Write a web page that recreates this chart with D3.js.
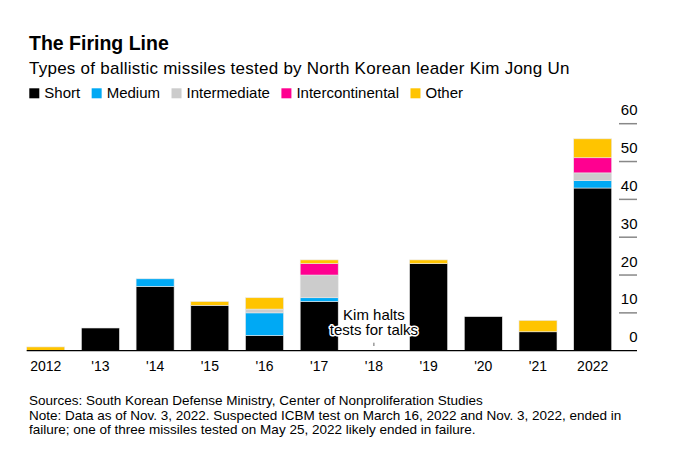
<!DOCTYPE html>
<html><head><meta charset="utf-8">
<script src="https://cdn.jsdelivr.net/npm/d3@7"></script>
<style>
body{margin:0;background:#fff;}
text{font-family:"Liberation Sans",Arial,Helvetica,sans-serif;}
</style></head>
<body><svg id="c" width="681" height="468"></svg>
<script>
const years = ["2012","'13","'14","'15","'16","'17","'18","'19","'20","'21","2022"];
const seriesNames = ["Short","Medium","Intermediate","Intercontinental","Other"];
const colors = ["#000000","#00a9f4","#cccccc","#ff0090","#ffc400"];
const shortVals = [0,6,17,12,4,13,0,23,9,5,43];
const mediumVals = [0,0,2,0,6,1,0,0,0,0,2];
const intermediateVals = [0,0,0,0,1,6,0,0,0,0,2];
const icbmVals = [0,0,0,0,0,3,0,0,0,0,4];
const otherVals = [1,0,0,1,3,1,0,1,0,3,5];
const yTicks = [0,10,20,30,40,50,60];
const notes = [
 "Sources: South Korean Defense Ministry, Center of Nonproliferation Studies",
 "Note: Data as of Nov. 3, 2022. Suspected ICBM test on March 16, 2022 and Nov. 3, 2022, ended in",
 "failure; one of three missiles tested on May 25, 2022 likely ended in failure."
];

const svg = d3.select("#c");
const rows = years.map((y,i)=>({year:y, Short:shortVals[i], Medium:mediumVals[i], Intermediate:intermediateVals[i], Intercontinental:icbmVals[i], Other:otherVals[i]}));
const stack = d3.stack().keys(seriesNames)(rows);

const x = d3.scaleBand().domain(years).range([26.7,611.7]).paddingInner(0.305).paddingOuter(0);
const y = d3.scaleLinear().domain([0,60]).range([350.7,123.7]);
const color = d3.scaleOrdinal().domain(seriesNames).range(colors);

// title
svg.append("text").attr("x",29).attr("y",49.5).attr("font-size",19.5).attr("font-weight","bold").attr("fill","#000").text("The Firing Line");
svg.append("text").attr("x",29).attr("y",73.5).attr("font-size",17).attr("letter-spacing",0.25).attr("fill","#000").text("Types of ballistic missiles tested by North Korean leader Kim Jong Un");

// legend
let lx = 29.3;
seriesNames.forEach((s)=>{
  svg.append("rect").attr("x",lx).attr("y",88.3).attr("width",10).attr("height",10).attr("fill",color(s));
  const t = svg.append("text").attr("x",lx+15).attr("y",97.5).attr("font-size",15).attr("fill","#000").text(s);
  lx = lx + 15 + t.node().getComputedTextLength() + 11.5;
});

// y ticks on right
const yg = svg.append("g");
yTicks.forEach(v=>{
  if(v>0) yg.append("line").attr("x1",619).attr("x2",637).attr("y1",y(v)).attr("y2",y(v)).attr("stroke","#888").attr("stroke-width",1.5);
  yg.append("text").attr("x",637.5).attr("y",y(v)-8.5).attr("text-anchor","end").attr("font-size",15).attr("fill","#000").text(v);
});

// bars
svg.append("g").selectAll("g").data(stack).join("g").attr("fill",d=>color(d.key))
  .selectAll("rect").data(d=>d.filter(p=>p[1]-p[0]>0)).join("rect")
  .attr("x",d=>x(d.data.year)).attr("width",x.bandwidth())
  .attr("y",d=>y(d[1])).attr("height",d=>y(d[0])-y(d[1]))
  .attr("stroke","#e8e8e8").attr("stroke-width",0.6);

// baseline
svg.append("line").attr("x1",26.7).attr("x2",637).attr("y1",y(0)).attr("y2",y(0)).attr("stroke","#000").attr("stroke-width",1.2);

// x labels
svg.append("g").selectAll("text").data(years).join("text")
  .attr("x",d=>x(d)+x.bandwidth()/2).attr("y",371).attr("text-anchor","middle").attr("font-size",14).attr("fill","#000").text(d=>d);

// annotation
const ax = x("'18")+x.bandwidth()/2;
svg.append("line").attr("x1",ax).attr("x2",ax).attr("y1",342.7).attr("y2",346).attr("stroke","#666").attr("stroke-width",1);
["Kim halts","tests for talks"].forEach((s,i)=>{
  svg.append("text").attr("x",ax).attr("y",320+i*14.5).attr("text-anchor","middle").attr("font-size",15)
    .attr("fill","#000").attr("stroke","#fff").attr("stroke-width",3).attr("stroke-linejoin","round")
    .attr("paint-order","stroke").text(s);
});

// notes
notes.forEach((n,i)=>{
  svg.append("text").attr("x",29).attr("y",405+i*14.5).attr("font-size",13.5).attr("fill","#000").text(n);
});
</script></body></html>
